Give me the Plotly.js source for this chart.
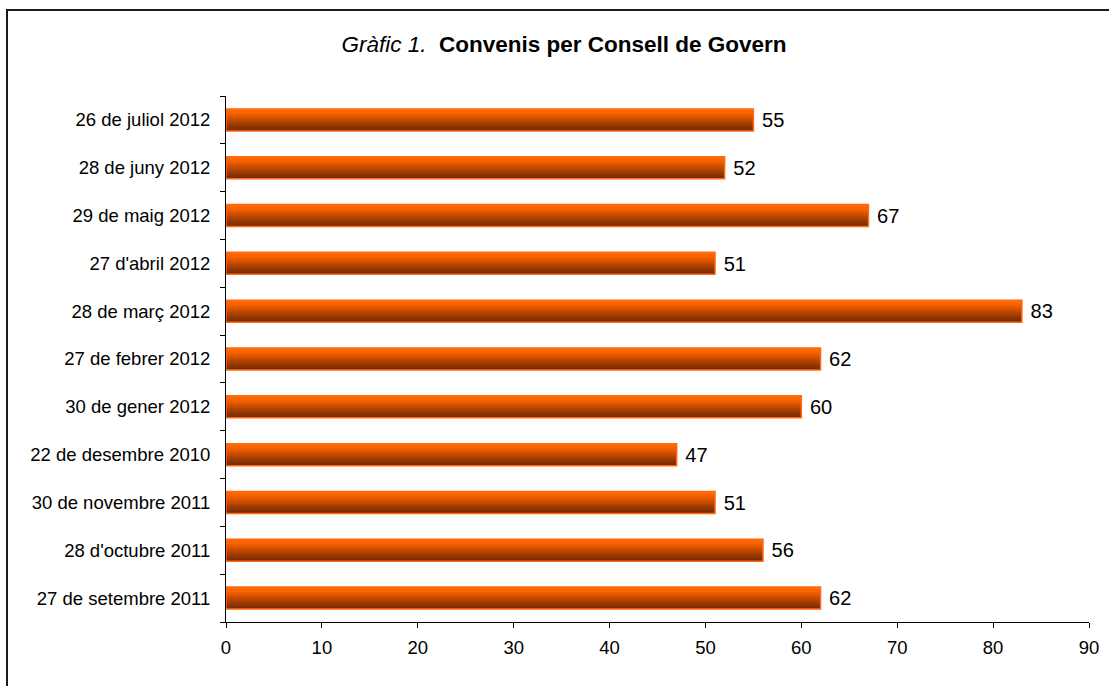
<!DOCTYPE html>
<html>
<head>
<meta charset="utf-8">
<script src="https://cdn.plot.ly/plotly-3.0.1.min.js"></script>
<style>
html,body{margin:0;padding:0;background:#fff;overflow:hidden;}
#frame{position:absolute;left:6px;top:9px;width:1200px;height:800px;border:2px solid #1a1a1a;box-sizing:border-box;}
#chart{position:absolute;left:0;top:0;width:1109px;height:686px;}
</style>
</head>
<body>
<div id="frame"></div>
<div id="chart"></div>
<script>
// Categories listed bottom to top
const categories = [
  "27 de setembre 2011",
  "28 d'octubre 2011",
  "30 de novembre 2011",
  "22 de desembre 2010",
  "30 de gener 2012",
  "27 de febrer 2012",
  "28 de març 2012",
  "27 d'abril 2012",
  "29 de maig 2012",
  "28 de juny 2012",
  "26 de juliol 2012"
];
const convenis = [62, 56, 51, 47, 60, 62, 83, 51, 67, 52, 55];
const xTickVals = [0, 10, 20, 30, 40, 50, 60, 70, 80, 90];

const FONT = "Arial, 'Liberation Sans', sans-serif";
const barWidth = 0.46;
// gradient bands, bottom (dark) to top (bright)
const bandColors = ["#7a2c00", "#8a3200", "#9c3900", "#b04100", "#c44a00", "#d85300", "#ea5c00", "#f86400", "#ff6a00"];
const n = bandColors.length;
const step = barWidth / n;

const traces = bandColors.map((c, k) => ({
  type: "bar",
  orientation: "h",
  x: convenis,
  y: categories,
  width: k === n - 1 ? step : step * 1.8,
  offset: -barWidth / 2 + k * step,
  marker: {color: c, line: {width: 0}},
  hoverinfo: "skip",
  showlegend: false
}));

traces.push({
  type: "bar",
  orientation: "h",
  x: convenis,
  y: categories,
  width: barWidth,
  offset: -barWidth / 2,
  marker: {color: "rgba(0,0,0,0)", line: {color: "#ff6a10", width: 1.5}},
  text: convenis.map(v => " " + v),
  textposition: "outside",
  textfont: {family: FONT, size: 21, color: "#000"},
  cliponaxis: false,
  showlegend: false
});

const layout = {
  width: 1109,
  height: 686,
  margin: {l: 226, r: 20, t: 96, b: 64},
  paper_bgcolor: "rgba(0,0,0,0)",
  plot_bgcolor: "rgba(0,0,0,0)",
  barmode: "overlay",
  font: {family: FONT, color: "#000"},
  title: {
    text: "<i>Gràfic 1.</i>  <b>Convenis per Consell de Govern</b>",
    font: {family: FONT, size: 22.5, color: "#000"},
    x: 564 / 1109, xref: "container", xanchor: "center",
    y: 1 - 44 / 686, yref: "container", yanchor: "middle"
  },
  xaxis: {
    range: [0, 90],
    tickvals: xTickVals,
    ticktext: xTickVals.map(String),
    ticks: "outside", ticklen: 5, tickcolor: "#000", tickwidth: 1,
    showline: true, linecolor: "#000", linewidth: 1,
    showgrid: false, zeroline: false,
    ticklabelstandoff: 4,
    tickfont: {family: FONT, size: 18.5, color: "#000"},
    fixedrange: true
  },
  yaxis: {
    type: "category",
    range: [-0.5, 10.5],
    tickson: "boundaries",
    ticks: "outside", ticklen: 5, tickcolor: "#000", tickwidth: 1,
    showline: true, linecolor: "#000", linewidth: 1,
    showgrid: false, zeroline: false,
    ticklabelstandoff: 11,
    tickfont: {family: FONT, size: 18.5, color: "#000"},
    fixedrange: true
  }
};

Plotly.newPlot("chart", traces, layout, {displayModeBar: false, staticPlot: true});
</script>
</body>
</html>
